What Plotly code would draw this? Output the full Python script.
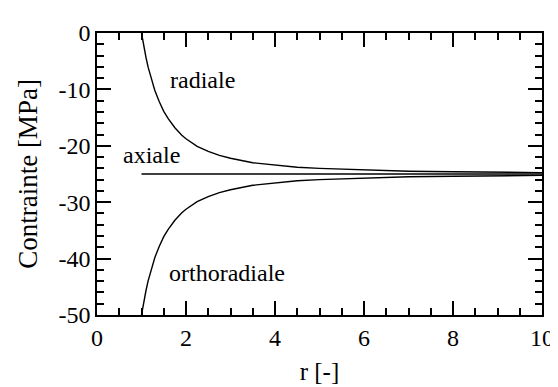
import plotly.graph_objects as go

# r values and stresses (MPa)
r = [1, 1.05, 1.1, 1.15, 1.2, 1.3, 1.4, 1.5, 1.6, 1.75, 1.9, 2, 2.25, 2.5, 2.75,
     3, 3.5, 4, 4.5, 5, 6, 7, 8, 9, 10]
radiale = [0, -2.3, -4.3, -6.1, -7.6, -10.2, -12.2, -13.9, -15.2, -16.8, -18.1, -18.75,
           -20.1, -21.0, -21.7, -22.2, -23.0, -23.4, -23.8, -24.0, -24.3, -24.5, -24.6,
           -24.7, -24.75]
orthoradiale = [-50, -47.7, -45.7, -43.9, -42.4, -39.8, -37.8, -36.1, -34.8, -33.2, -31.9,
                -31.25, -29.9, -29.0, -28.3, -27.8, -27.0, -26.6, -26.2, -26.0, -25.7,
                -25.5, -25.4, -25.3, -25.25]
r_axiale = [1, 10]
axiale = [-25, -25]

labels = ["radiale", "axiale", "orthoradiale"]
label_x = [2.37, 1.23, 2.92]
label_y = [-8.4, -21.7, -42.5]

x_ticks = [0, 2, 4, 6, 8, 10]
x_ticktext = ["0", "2", "4", "6", "8", "10"]
y_ticks = [0, -10, -20, -30, -40, -50]
y_ticktext = ["0", "-10", "-20", "-30", "-40", "-50"]

F = "Liberation Serif"

fig = go.Figure()
fig.add_trace(go.Scatter(x=r, y=radiale, mode="lines", line=dict(color="black", width=1.4),
                         showlegend=False))
fig.add_trace(go.Scatter(x=r, y=orthoradiale, mode="lines", line=dict(color="black", width=1.4),
                         showlegend=False))
fig.add_trace(go.Scatter(x=r_axiale, y=axiale, mode="lines", line=dict(color="black", width=1.4),
                         showlegend=False))

for t, x, y in zip(labels, label_x, label_y):
    fig.add_annotation(x=x, y=y, text=t, showarrow=False,
                       font=dict(family=F, size=24, color="black"))

fig.update_xaxes(range=[0, 10], tickvals=x_ticks, ticktext=x_ticktext,
                 ticks="inside", ticklen=14, tickwidth=2, tickcolor="black",
                 minor=dict(dtick=0.5, ticks="inside", ticklen=7, tickcolor="black", tickwidth=2),
                 showgrid=False, zeroline=False, showline=True, linecolor="black", linewidth=1.5,
                 mirror="allticks",
                 tickfont=dict(family=F, size=24, color="black"),
                 title=dict(text="r [-]", font=dict(family=F, size=25, color="black"), standoff=13))
fig.update_yaxes(range=[-50, 0], tickvals=y_ticks, ticktext=y_ticktext,
                 ticks="inside", ticklen=14, tickwidth=2, tickcolor="black",
                 minor=dict(dtick=2, ticks="inside", ticklen=7, tickcolor="black", tickwidth=2),
                 showgrid=False, zeroline=False, showline=True, linecolor="black", linewidth=1.5,
                 mirror="allticks",
                 tickfont=dict(family=F, size=24, color="black"),
                 title=dict(text="Contrainte [MPa]", font=dict(family=F, size=27, color="black"), standoff=13))
fig.update_layout(width=558, height=387, margin=dict(l=89, r=21, t=14, b=80),
                  paper_bgcolor="white", plot_bgcolor="white")
fig.write_html("out.html")
